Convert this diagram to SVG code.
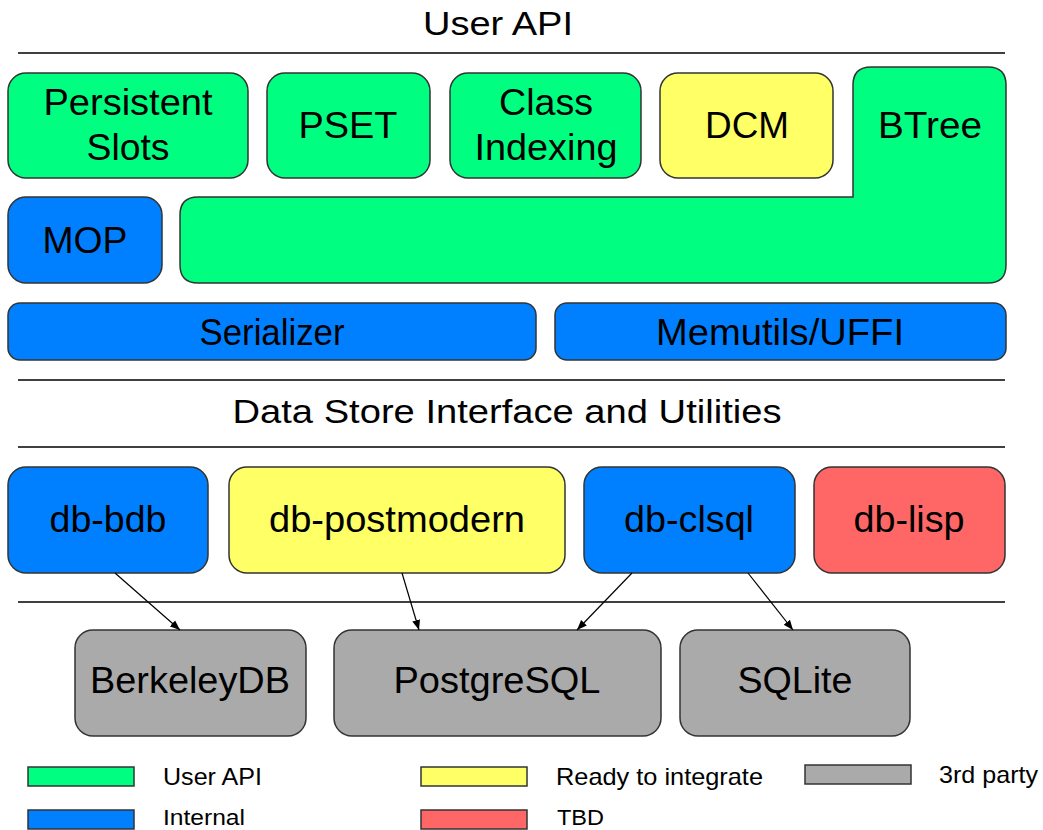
<svg xmlns="http://www.w3.org/2000/svg" width="1043" height="830" viewBox="0 0 1043 830">
<style>
.n{stroke:#333;stroke-width:1.5}
.g{fill:#00ff80}.b{fill:#0080ff}.y{fill:#ffff66}.r{fill:#ff6666}.a{fill:#aaaaaa}
text{font-family:"Liberation Sans",Arial,sans-serif;fill:#000}
.t{font-size:36px;text-anchor:middle}
.h{font-size:33px;text-anchor:middle}
.l{font-size:24px}
.lb{font-size:22px}
.sep{stroke:#000;stroke-width:1.5}
.c{stroke:#000;stroke-width:1.2;fill:none;marker-end:url(#ah)}
</style>
<defs>
<marker id="ah" viewBox="0 0 10 10" refX="10" refY="5" markerWidth="10" markerHeight="10" markerUnits="userSpaceOnUse" orient="auto">
<path d="M0,1 L10,5 L0,9 Z" fill="#000"/>
</marker>
</defs>
<rect width="1043" height="830" fill="#fff"/>
<g id="headings">
<text class="h" x="498" y="35" textLength="150" lengthAdjust="spacingAndGlyphs">User API</text>
<line class="sep" x1="18" y1="53" x2="1005" y2="53"/>
<line class="sep" x1="18" y1="380" x2="1005" y2="380"/>
<text class="h" x="507" y="423" textLength="549" lengthAdjust="spacingAndGlyphs">Data Store Interface and Utilities</text>
<line class="sep" x1="18" y1="447" x2="1005" y2="447"/>
<line class="sep" x1="18" y1="602" x2="1005" y2="602"/>
</g>
<g id="persistent-slots">
<rect class="n g" x="8" y="73" width="240" height="105" rx="18"/>
<text class="t" x="128" y="115" textLength="169" lengthAdjust="spacingAndGlyphs">Persistent</text>
<text class="t" x="128" y="160" textLength="83" lengthAdjust="spacingAndGlyphs">Slots</text>
</g>
<g id="pset">
<rect class="n g" x="267" y="73" width="163" height="105" rx="18"/>
<text class="t" x="348" y="138" textLength="99" lengthAdjust="spacingAndGlyphs">PSET</text>
</g>
<g id="class-indexing">
<rect class="n g" x="450" y="73" width="191" height="105" rx="18"/>
<text class="t" x="546" y="115" textLength="94" lengthAdjust="spacingAndGlyphs">Class</text>
<text class="t" x="546" y="160" textLength="143" lengthAdjust="spacingAndGlyphs">Indexing</text>
</g>
<g id="dcm">
<rect class="n y" x="660" y="73" width="173" height="105" rx="18"/>
<text class="t" x="747" y="138" textLength="84" lengthAdjust="spacingAndGlyphs">DCM</text>
</g>
<g id="btree">
<path class="n g" d="M871 67 H988 Q1006 67 1006 85 V265 Q1006 283 988 283 H198 Q180 283 180 265 V215 Q180 197 198 197 H853 V85 Q853 67 871 67 Z"/>
<text class="t" x="930" y="138" textLength="104" lengthAdjust="spacingAndGlyphs">BTree</text>
</g>
<g id="mop">
<rect class="n b" x="8" y="197" width="154" height="86" rx="18"/>
<text class="t" x="85" y="253" textLength="85" lengthAdjust="spacingAndGlyphs">MOP</text>
</g>
<g id="serializer">
<rect class="n b" x="8" y="303" width="528" height="57" rx="12"/>
<text class="t" x="272" y="345" textLength="145" lengthAdjust="spacingAndGlyphs">Serializer</text>
</g>
<g id="memutils">
<rect class="n b" x="555" y="303" width="451" height="57" rx="12"/>
<text class="t" x="780" y="345" textLength="248" lengthAdjust="spacingAndGlyphs">Memutils/UFFI</text>
</g>
<g id="db-bdb">
<rect class="n b" x="8" y="467" width="200" height="106" rx="18"/>
<text class="t" x="108" y="532" textLength="117" lengthAdjust="spacingAndGlyphs">db-bdb</text>
</g>
<g id="db-postmodern">
<rect class="n y" x="229" y="467" width="336" height="106" rx="18"/>
<text class="t" x="397" y="532" textLength="256" lengthAdjust="spacingAndGlyphs">db-postmodern</text>
</g>
<g id="db-clsql">
<rect class="n b" x="584" y="467" width="211" height="106" rx="18"/>
<text class="t" x="689" y="532" textLength="130" lengthAdjust="spacingAndGlyphs">db-clsql</text>
</g>
<g id="db-lisp">
<rect class="n r" x="814" y="467" width="191" height="106" rx="18"/>
<text class="t" x="909" y="532" textLength="111" lengthAdjust="spacingAndGlyphs">db-lisp</text>
</g>
<g id="berkeleydb">
<rect class="n a" x="75" y="630" width="231" height="106" rx="18"/>
<text class="t" x="190" y="693" textLength="200" lengthAdjust="spacingAndGlyphs">BerkeleyDB</text>
</g>
<g id="postgresql">
<rect class="n a" x="334" y="630" width="327" height="106" rx="18"/>
<text class="t" x="497" y="693" textLength="207" lengthAdjust="spacingAndGlyphs">PostgreSQL</text>
</g>
<g id="sqlite">
<rect class="n a" x="680" y="630" width="230" height="106" rx="18"/>
<text class="t" x="795" y="693" textLength="115" lengthAdjust="spacingAndGlyphs">SQLite</text>
</g>
<g id="connectors">
<line class="c" x1="115" y1="573" x2="180" y2="630"/>
<line class="c" x1="402" y1="573" x2="419" y2="630"/>
<line class="c" x1="632" y1="573" x2="577" y2="630"/>
<line class="c" x1="748" y1="573" x2="793" y2="630"/>
</g>
<g id="legend">
<rect class="n g" x="28" y="767" width="106" height="19"/>
<text class="l" x="163" y="785" textLength="99" lengthAdjust="spacingAndGlyphs">User API</text>
<rect class="n b" x="28" y="810" width="106" height="19"/>
<text class="lb" x="163" y="825" textLength="82" lengthAdjust="spacingAndGlyphs">Internal</text>
<rect class="n y" x="421" y="767" width="106" height="19"/>
<text class="l" x="556" y="785" textLength="207" lengthAdjust="spacingAndGlyphs">Ready to integrate</text>
<rect class="n r" x="421" y="810" width="106" height="19"/>
<text class="lb" x="557" y="825" textLength="47" lengthAdjust="spacingAndGlyphs">TBD</text>
<rect class="n a" x="805" y="765" width="106" height="19"/>
<text class="l" x="939" y="783" textLength="99" lengthAdjust="spacingAndGlyphs">3rd party</text>
</g>
</svg>
